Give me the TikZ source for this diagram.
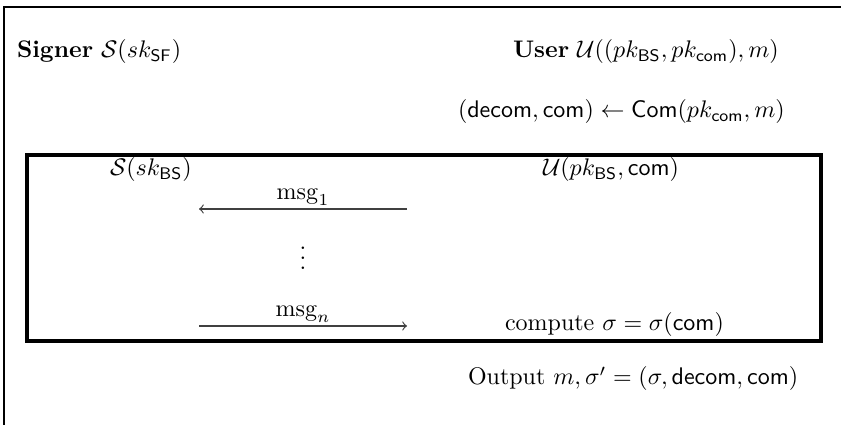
\documentclass[tikz,border=0pt]{standalone}
\usepackage{amsmath}
\begin{document}
\begin{tikzpicture}[x=0.41667pt,y=-0.41667pt,
  txt/.style={inner sep=0pt,outer sep=0pt},
  outerframe/.style={line width=1pt,line cap=rect},
  innerframe/.style={line width=1.3pt},
  msgarrow/.style={->,line width=0.5pt,draw=black!75}]
\useasboundingbox (0,0) rectangle (841,425);
\draw[outerframe] (4,425) -- (4,7) -- (841,7);
\draw[innerframe] (27,155) rectangle (821,341);
\node[txt,anchor=base west] (signer) at (17,58) {\textbf{Signer} $\mathcal{S}(sk_{\mathsf{SF}})$};
\node[txt,anchor=base west] (user) at (513,58) {\textbf{User} $\mathcal{U}((pk_{\mathsf{BS}},pk_{\mathsf{com}}),m)$};
\node[txt,anchor=base west] (commit) at (458,118) {$(\mathsf{decom},\mathsf{com})\leftarrow\mathsf{Com}(pk_{\mathsf{com}},m)$};
\node[txt,anchor=base west] (sbs) at (110,176) {$\mathcal{S}(sk_{\mathsf{BS}})$};
\node[txt,anchor=base west] (ubs) at (543,176) {$\mathcal{U}(pk_{\mathsf{BS}},\mathsf{com})$};
\node[txt,anchor=base] (msg1) at (303,200) {$\mathrm{msg}_1$};
\coordinate (a1r) at (407,209);
\coordinate (a1l) at (199,209);
\draw[msgarrow] (a1r) -- (a1l);
\node[txt] (dots) at (303,251) {$\vdots$};
\node[txt,anchor=base] (msgn) at (303,317) {$\mathrm{msg}_n$};
\coordinate (anl) at (199,326);
\coordinate (anr) at (407,326);
\draw[msgarrow] (anl) -- (anr);
\node[txt,anchor=base west] (compute) at (505,331) {compute $\sigma=\sigma(\mathsf{com})$};
\node[txt,anchor=base west] (output) at (468,385) {Output $m,\sigma'=(\sigma,\mathsf{decom},\mathsf{com})$};
\end{tikzpicture}
\end{document}
